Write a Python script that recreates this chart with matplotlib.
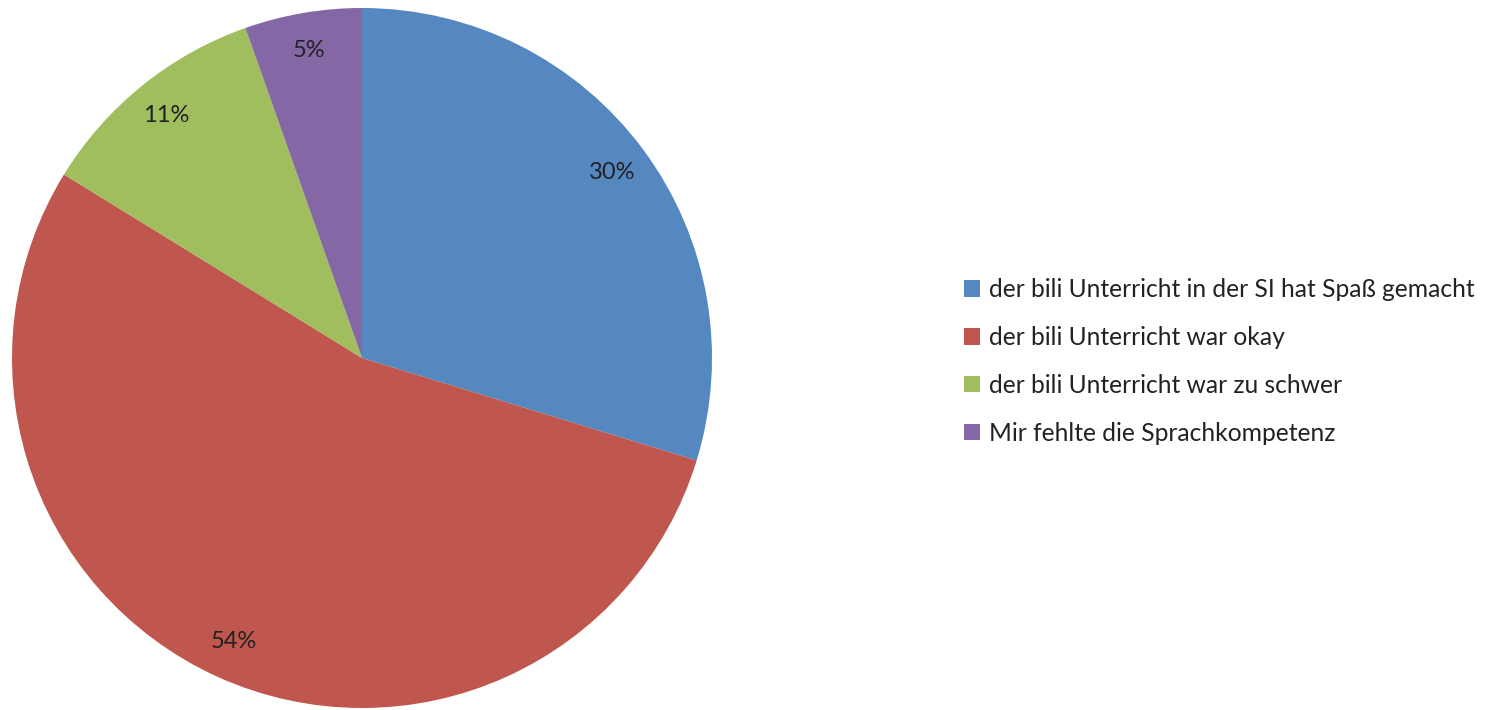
import matplotlib.pyplot as plt
from matplotlib.patches import Patch

labels = [
    "der bili Unterricht in der SI hat Spaß gemacht",
    "der bili Unterricht war okay",
    "der bili Unterricht war zu schwer",
    "Mir fehlte die Sprachkompetenz",
]
# answer counts (shown as rounded percentages)
values = [11, 20, 4, 2]
colors = ["#5587C0", "#C0574F", "#A0BE5E", "#8567A5"]

plt.rcParams["font.family"] = ["Lato", "DejaVu Sans"]

W, H = 1493, 710
fig = plt.figure(figsize=(W / 100, H / 100), dpi=100)

# pie placed by pixel geometry: centre (362, 358), radius 350
cx, cy, r = 362, 358, 350
ax = fig.add_axes([(cx - r) / W, (H - cy - r) / H, 2 * r / W, 2 * r / H])
ax.pie(
    values,
    colors=colors,
    startangle=90,
    counterclock=False,
    autopct="%.0f%%",
    pctdistance=0.89,
    radius=1,
    textprops=dict(fontsize=17, color="#222222"),
    wedgeprops=dict(linewidth=0),
)
ax.set_xlim(-1, 1)
ax.set_ylim(-1, 1)
ax.set_aspect("equal")
ax.axis("off")

handles = [Patch(facecolor=c, edgecolor="none") for c in colors]
fig.legend(
    handles,
    labels,
    loc="upper left",
    bbox_to_anchor=(942 / W, 1 - 256 / H),
    frameon=False,
    fontsize=17.7,
    handlelength=0.65,
    handleheight=0.65,
    handletextpad=0.35,
    labelspacing=1.01,
    labelcolor="#222222",
)

fig.savefig("out.png", dpi=100, facecolor="white")
